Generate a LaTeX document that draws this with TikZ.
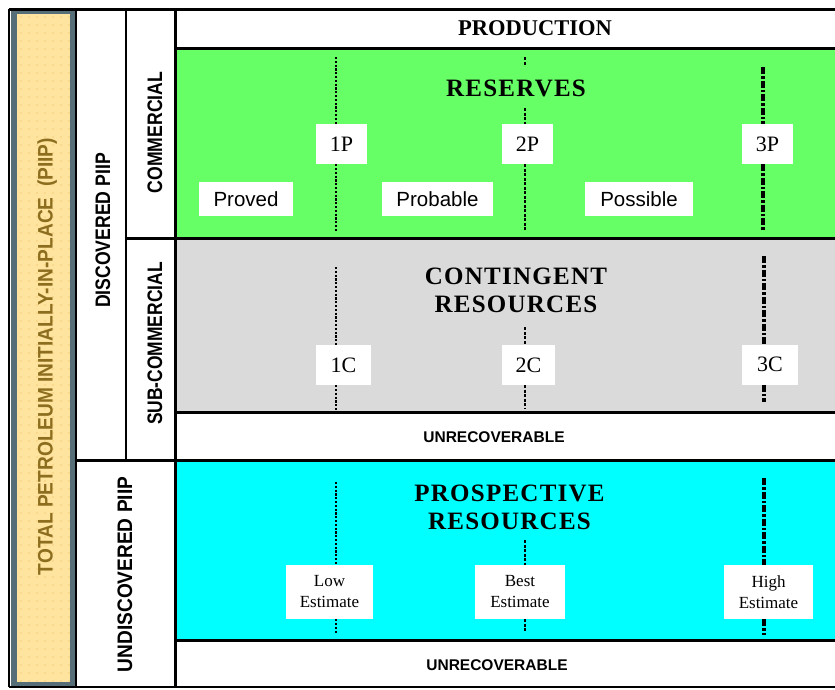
\documentclass[tikz,border=0pt]{standalone}
\usepackage{fontspec}
\usepackage{graphicx}
\setmainfont{Liberation Serif}
\newfontfamily\arial{Liberation Sans}
\newfontfamily\ttl[LetterSpace=5]{Liberation Serif}
\definecolor{resgreen}{RGB}{102,255,102}
\definecolor{contgray}{RGB}{218,218,218}
\definecolor{prospcyan}{RGB}{0,255,255}
\definecolor{piiptan}{RGB}{255,228,160}
\definecolor{tandot}{RGB}{245,205,120}
\definecolor{slate}{RGB}{85,110,120}
\definecolor{olive}{RGB}{140,110,30}
\tikzset{
  gridthick/.style={line width=3pt},
  gridthin/.style={line width=2pt},
  lowline/.style={line width=2.7pt, dash pattern=on 2.2pt off 1.6pt},
  midline/.style={line width=2.8pt, dash pattern=on 3pt off 1.5pt},
  highline/.style={line width=3.2pt, dash pattern=on 7pt off 2pt on 2.5pt off 2pt},
  pbox/.style={fill=white, inner sep=0pt, minimum height=40pt, font=\fontsize{22}{24}\selectfont},
  catbox/.style={fill=white, inner sep=0pt, minimum height=34pt, font=\arial\fontsize{20.5}{22}\selectfont},
  estbox/.style={fill=white, inner sep=0pt, minimum height=54pt, align=center, font=\fontsize{17}{21}\selectfont},
  region/.style={inner sep=0pt, align=center, font=\ttl\bfseries\fontsize{25}{28}\selectfont},
  unrec/.style={inner sep=0pt, font=\arial\bfseries\fontsize{15.5}{17}\selectfont},
  sidelabel/.style={inner sep=0pt, rotate=90, anchor=base, font=\arial\bfseries\fontsize{21}{23}\selectfont},
}
\begin{document}
\begin{tikzpicture}[x=1pt,y=-1pt]
\useasboundingbox (0,0) rectangle (835,689);
% fills
\fill[white] (0,0) rectangle (835,689);
\fill[resgreen] (175,48) rectangle (835,237);
\fill[contgray] (175,237) rectangle (835,412);
\fill[prospcyan] (175,460) rectangle (835,640);
\fill[piiptan] (13,11) rectangle (73,685);
\foreach \i in {0,...,6} {
  \foreach \j in {0,...,83} {
    \fill[tandot] (21+8*\i,17+8*\j) circle (0.8pt);
  }
}
\draw[slate, line width=6pt] (13.5,11) rectangle (72.5,684.5);
% grid
\draw[gridthin] (9,9) -- (9,687);
\draw[gridthick] (9,9) -- (835,9);
\draw[gridthin] (9,687) -- (835,687);
\draw[gridthin] (76,9) -- (76,687);
\draw[gridthin] (126,9) -- (126,460);
\draw[gridthick] (175,9) -- (175,687);
\draw[gridthick] (175,48) -- (835,48);
\draw[gridthick] (126,238) -- (835,238);
\draw[gridthick] (175,412) -- (835,412);
\draw[gridthick] (76,460) -- (835,460);
\draw[gridthick] (175,640) -- (835,640);
% side labels
\node[sidelabel, text=olive] (total) at (52.5,356.5) {\scalebox{0.91}[1]{TOTAL PETROLEUM INITIALLY-IN-PLACE\ \ (PIIP)}};
\node[sidelabel] (disc) at (110,230.5) {\scalebox{0.84}[1]{DISCOVERED PIIP}};
\node[sidelabel] (comm) at (162,132.5) {\scalebox{0.84}[1]{COMMERCIAL}};
\node[sidelabel] (subcomm) at (162,343.5) {\scalebox{0.83}[1]{SUB-COMMERCIAL}};
\node[sidelabel] (undisc) at (132,574.5) {\scalebox{0.91}[1]{UNDISCOVERED PIIP}};
% headings
\node[inner sep=0pt, font=\bfseries\fontsize{22.5}{24}\selectfont] (prod) at (535,28) {PRODUCTION};
\node[region] (res) at (516,88) {RESERVES};
\node[region] (cont) at (516,290) {CONTINGENT\\RESOURCES};
\node[region] (prosp) at (509.5,507) {PROSPECTIVE\\RESOURCES};
\node[unrec] (unrec1) at (494,437) {UNRECOVERABLE};
\node[unrec] (unrec2) at (497,665) {UNRECOVERABLE};
% category boxes
\node[catbox, minimum width=94pt] (proved) at (246,199) {Proved};
\node[catbox, minimum width=111pt] (probable) at (437.5,199) {Probable};
\node[catbox, minimum width=108pt] (possible) at (639,199) {Possible};
% P boxes
\node[pbox, minimum width=51pt] (p1) at (341.5,144) {1P};
\node[pbox, minimum width=51pt] (p2) at (527.5,144) {2P};
\node[pbox, minimum width=51pt] (p3) at (767.5,144) {3P};
% C boxes
\node[pbox, minimum width=55pt] (c1) at (343.5,365) {1C};
\node[pbox, minimum width=53pt] (c2) at (528.5,365) {2C};
\node[pbox, minimum width=56pt] (c3) at (770,364.5) {3C};
% estimate boxes
\node[estbox, minimum width=87pt] (low) at (329.5,592) {Low\\Estimate};
\node[estbox, minimum width=90pt] (best) at (520,592) {Best\\Estimate};
\node[estbox, minimum width=89pt] (high) at (768.5,592) {High\\Estimate};
% coordinates for the line ends
\coordinate (p1t) at (336,57);  \coordinate (p1b) at (336,231);
\coordinate (p2t) at (525,57);  \coordinate (p2u) at (525,65);
\coordinate (p2m) at (525,108); \coordinate (p2b) at (525,231);
\coordinate (p3t) at (763,67);  \coordinate (p3b) at (763,230);
\coordinate (c1t) at (336,267); \coordinate (c1b) at (336,410);
\coordinate (c2t) at (525,327); \coordinate (c2b) at (525,408);
\coordinate (c3t) at (764,256); \coordinate (c3b) at (764,402);
\coordinate (lowt) at (336,482);  \coordinate (lowb) at (336,633);
\coordinate (bestt) at (525,540); \coordinate (bestb) at (525,632);
\coordinate (hight) at (764,478); \coordinate (highb) at (764,635);
% reserves lines
\draw[lowline] (p1t) -- (p1t |- p1.north);
\draw[lowline] (p1t |- p1.south) -- (p1b);
\draw[midline] (p2t) -- (p2u);
\draw[midline] (p2m) -- (p2m |- p2.north);
\draw[midline] (p2m |- p2.south) -- (p2b);
\draw[highline] (p3t) -- (p3t |- p3.north);
\draw[highline] (p3t |- p3.south) -- (p3b);
% contingent lines
\draw[lowline] (c1t) -- (c1t |- c1.north);
\draw[lowline] (c1t |- c1.south) -- (c1b);
\draw[midline] (c2t) -- (c2t |- c2.north);
\draw[midline] (c2t |- c2.south) -- (c2b);
\draw[highline] (c3t) -- (c3t |- c3.north);
\draw[highline] (c3t |- c3.south) -- (c3b);
% prospective lines
\draw[lowline] (lowt) -- (lowt |- low.north);
\draw[lowline] (lowt |- low.south) -- (lowb);
\draw[midline] (bestt) -- (bestt |- best.north);
\draw[midline] (bestt |- best.south) -- (bestb);
\draw[highline] (hight) -- (hight |- high.north);
\draw[highline] (hight |- high.south) -- (highb);
\end{tikzpicture}
\end{document}
